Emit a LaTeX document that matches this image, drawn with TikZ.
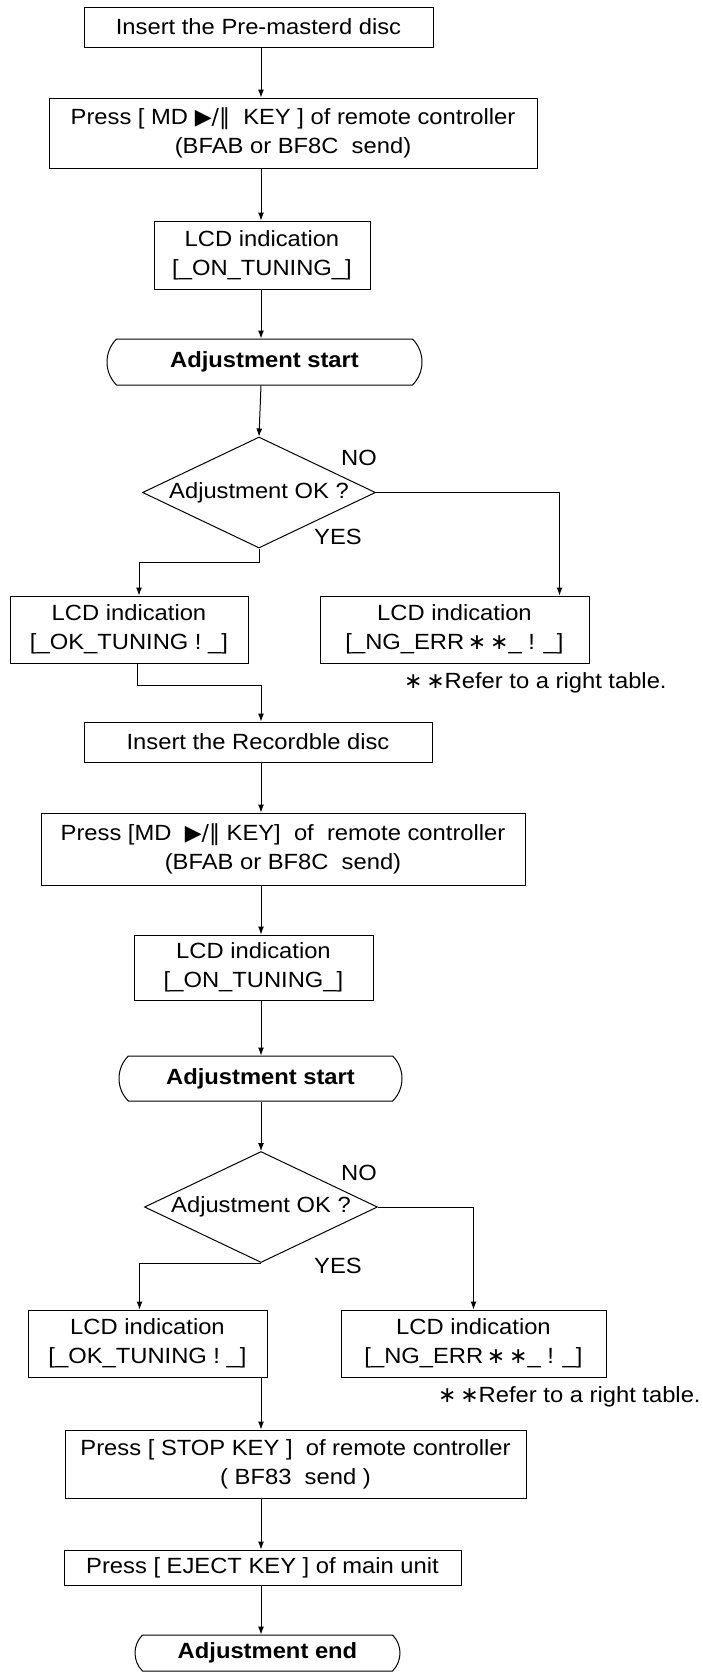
\documentclass[tikz,border=0pt]{standalone}
\usepackage{fontspec}
\setmainfont{Liberation Sans}[FakeStretch=1.08]
\newfontfamily\mdsym{DejaVu Sans}
\usetikzlibrary{shapes.geometric,shapes.misc,arrows.meta}
\begin{document}
\begin{tikzpicture}[x=1pt, y=-1pt,
  mdtxt/.style = {font=\fontsize{22}{29}\selectfont},
  mdbox/.style = {mdtxt, draw, line width=1pt, rectangle, inner sep=0pt, align=center},
  mdterm/.style = {mdtxt, draw, line width=1pt, rounded rectangle, rounded rectangle arc length=90, inner sep=0pt, font=\fontsize{22}{29}\selectfont\bfseries},
  mddec/.style = {mdtxt, draw, line width=1pt, diamond, aspect=2.1, inner sep=0pt, minimum width=233pt, minimum height=111pt},
  mdarrow/.style = {line width=1pt, -{Latex[length=8pt,width=6pt]}},
  mdlbl/.style = {mdtxt, inner sep=0pt}
]
  \useasboundingbox (0,0) rectangle (703,1676);
  \coordinate (ax) at (261,0);
  % first disc
  \node[mdbox, minimum width=349pt, minimum height=40pt] (ins1) at (258.5,27) {Insert the Pre-masterd disc};
  \node[mdbox, minimum width=488pt, minimum height=70pt] (press1) at (293,133)
    {Press [ MD {\mdsym ▶/‖}\ \ KEY ] of remote controller\\(BFAB or BF8C\ \ send)};
  \node[mdbox, minimum width=216pt, minimum height=68pt] (lcd1) at (262,255) {LCD indication\\{[}\_ON\_TUNING\_]};
  \node[mdterm, minimum width=315pt, minimum height=46pt] (start1) at (264.5,362) {Adjustment start};
  \node[mddec] (dec1) at (259,492.5) {Adjustment OK ?};
  \node[mdlbl] (no1) at (359,458) {NO};
  \node[mdlbl] (yes1) at (338,537) {YES};
  \node[mdbox, minimum width=238pt, minimum height=67pt] (ok1) at (129,629.5) {LCD indication\\{[}\_OK\_TUNING ! \_]};
  \node[mdbox, minimum width=269pt, minimum height=67pt] (ng1) at (454.5,629.5) {LCD indication\\{[}\_NG\_ERR\,{\mdsym ∗\,∗}\_ ! \_]};
  \node[mdlbl, anchor=west] (note1) at (404,683) {{\mdsym ∗\,∗}Refer to a right table.};
  % second disc
  \node[mdbox, minimum width=348pt, minimum height=40pt] (ins2) at (258,742) {Insert the Recordble disc};
  \node[mdbox, minimum width=484pt, minimum height=72pt] (press2) at (283,849)
    {Press [MD\ \ {\mdsym ▶/‖} KEY]\ \ of\ \ remote controller\\(BFAB or BF8C\ \ send)};
  \node[mdbox, minimum width=239pt, minimum height=65pt] (lcd2) at (253.5,967.5) {LCD indication\\{[}\_ON\_TUNING\_]};
  \node[mdterm, minimum width=283pt, minimum height=45pt] (start2) at (260.5,1078.5) {Adjustment start};
  \node[mddec] (dec2) at (261,1207) {Adjustment OK ?};
  \node[mdlbl] (no2) at (359,1173) {NO};
  \node[mdlbl] (yes2) at (338,1266) {YES};
  \node[mdbox, minimum width=239pt, minimum height=67pt] (ok2) at (147.5,1343.5) {LCD indication\\{[}\_OK\_TUNING ! \_]};
  \node[mdbox, minimum width=265pt, minimum height=67pt] (ng2) at (473.5,1343.5) {LCD indication\\{[}\_NG\_ERR\,{\mdsym ∗\,∗}\_ ! \_]};
  \node[mdlbl, anchor=west] (note2) at (438,1397) {{\mdsym ∗\,∗}Refer to a right table.};
  % finish
  \node[mdbox, minimum width=461pt, minimum height=68pt] (stop) at (295.5,1464)
    {Press [ STOP KEY ]\ \ of remote controller\\( BF83\ \ send )};
  \node[mdbox, minimum width=397pt, minimum height=35pt] (eject) at (262.5,1567.5) {Press [ EJECT KEY ] of main unit};
  \node[mdterm, minimum width=265pt, minimum height=36pt] (fin) at (267.5,1653) {Adjustment end};
  % connectors
  \draw[mdarrow] (ins1.south -| ax) -- (press1.north -| ax);
  \draw[mdarrow] (press1.south -| ax) -- (lcd1.north -| ax);
  \draw[mdarrow] (lcd1.south -| ax) -- (start1.north -| ax);
  \draw[mdarrow] (start1.south -| ax) -- (dec1.north);
  \draw[mdarrow] (dec1.south) -- ++(0,14) -| ([xshift=10pt]ok1.north);
  \draw[mdarrow] (dec1.east) -| ([xshift=-30pt]ng1.north east);
  \draw[mdarrow] ([xshift=8pt]ok1.south) -- ++(0,22) -| (ins2.north -| ax);
  \draw[mdarrow] (ins2.south -| ax) -- (press2.north -| ax);
  \draw[mdarrow] (press2.south -| ax) -- (lcd2.north -| ax);
  \draw[mdarrow] (lcd2.south -| ax) -- (start2.north -| ax);
  \draw[mdarrow] (start2.south -| ax) -- (dec2.north);
  \draw[mdarrow] (dec2.south) -| ([xshift=-8pt]ok2.north);
  \draw[mdarrow] (dec2.east) -| (ng2.north);
  \draw[mdarrow] (ok2.south -| ax) -- (stop.north -| ax);
  \draw[mdarrow] (stop.south -| ax) -- (eject.north -| ax);
  \draw[mdarrow] (eject.south -| ax) -- (fin.north -| ax);
\end{tikzpicture}
\end{document}
